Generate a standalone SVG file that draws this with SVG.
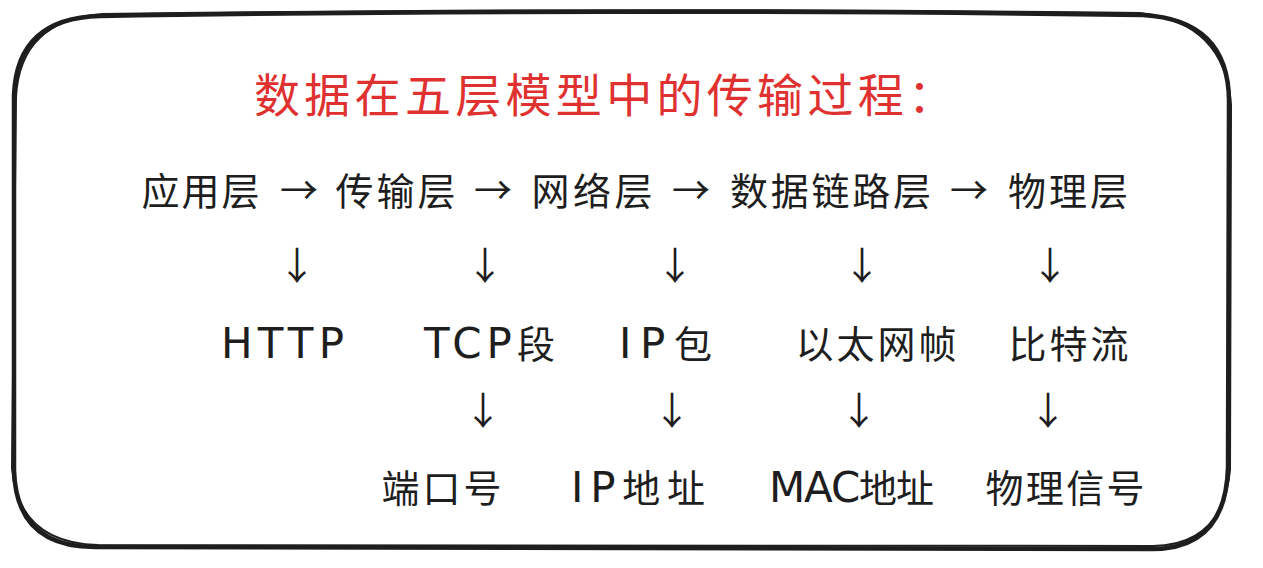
<svg xmlns="http://www.w3.org/2000/svg" width="1263" height="568" viewBox="0 0 1263 568">
<style>
.t{font-family:"Noto Sans CJK SC","Noto Sans",sans-serif;fill:#1e1e1e;font-size:38px}
.l{font-family:"DejaVu Sans","Noto Sans CJK SC",sans-serif;font-size:42px}
.title{font-family:"Noto Sans CJK SC","Noto Sans",sans-serif;fill:#e03131;font-size:46px}
.a{font-family:"Noto Sans CJK SC","Noto Sans",sans-serif;fill:#1e1e1e;font-size:38px;text-anchor:middle}
.frame{fill:none;stroke:#1e1e1e;stroke-linecap:round;stroke-linejoin:round}
</style>
<rect width="1263" height="568" fill="#ffffff"/>
<g id="frame">
<path class="frame" stroke-width="4.5" d="M100 16 C400 11 800 10 1143 15 Q1228 20 1229 100 L1228 467 Q1226 550 1150 549 L95 547 Q16 547 14 470 L14 95 Q17 18 100 16 Z"/>
<path class="frame" stroke-width="2" d="M103 14 C420 10 820 9 1140 13 Q1225 22 1231 105 L1230 470 Q1223 545 1153 546 L98 545 Q18 543 12 468 L16 97 Q20 20 103 14"/>
</g>
<g id="title"><text class="title" x="254" y="112" textLength="700" lengthAdjust="spacing">数据在五层模型中的传输过程：</text></g>
<g id="layer-app"><text class="t" x="141.5" y="205" textLength="118" lengthAdjust="spacing">应用层</text></g>
<g id="layer-transport"><text class="t" x="335.5" y="205" textLength="120" lengthAdjust="spacing">传输层</text></g>
<g id="layer-network"><text class="t" x="531.5" y="205" textLength="121" lengthAdjust="spacing">网络层</text></g>
<g id="layer-link"><text class="t" x="730" y="205" textLength="201" lengthAdjust="spacing">数据链路层</text></g>
<g id="layer-physical"><text class="t" x="1008" y="205" textLength="120" lengthAdjust="spacing">物理层</text></g>
<g id="unit-http"><text class="t l" x="221" y="358" textLength="123" lengthAdjust="spacing">HTTP</text></g>
<g id="unit-tcp"><text class="t" x="424" y="358" textLength="131" lengthAdjust="spacing"><tspan class="l">TCP</tspan>段</text></g>
<g id="unit-ip"><text class="t" x="619" y="358" textLength="93" lengthAdjust="spacing"><tspan class="l">IP</tspan>包</text></g>
<g id="unit-ethernet"><text class="t" x="795.5" y="358" textLength="161" lengthAdjust="spacing">以太网帧</text></g>
<g id="unit-bits"><text class="t" x="1008.5" y="358" textLength="120" lengthAdjust="spacing">比特流</text></g>
<g id="addr-port"><text class="t" x="381.5" y="502" textLength="120" lengthAdjust="spacing">端口号</text></g>
<g id="addr-ip"><text class="t" x="571" y="502" textLength="134" lengthAdjust="spacing"><tspan class="l">IP</tspan>地址</text></g>
<g id="addr-mac"><text class="t" x="769" y="502" textLength="165" lengthAdjust="spacing"><tspan class="l">MAC</tspan>地址</text></g>
<g id="addr-signal"><text class="t" x="985.5" y="502" textLength="159" lengthAdjust="spacing">物理信号</text></g>
<g id="connectors">
<text class="a" x="299" y="204">→</text>
<text class="a" x="493" y="204">→</text>
<text class="a" x="691" y="204">→</text>
<text class="a" x="969" y="204">→</text>
<text class="a" x="297" y="279">↓</text>
<text class="a" x="485" y="279">↓</text>
<text class="a" x="675" y="279">↓</text>
<text class="a" x="862" y="279">↓</text>
<text class="a" x="1050" y="279">↓</text>
<text class="a" x="483" y="424">↓</text>
<text class="a" x="672" y="424">↓</text>
<text class="a" x="859" y="424">↓</text>
<text class="a" x="1048" y="424">↓</text>
</g>
</svg>
